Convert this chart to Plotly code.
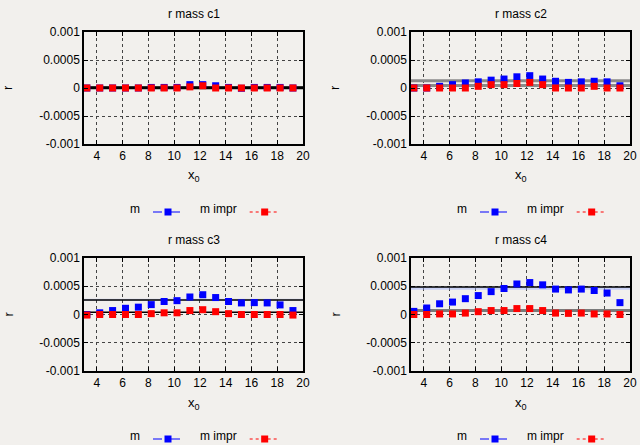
import plotly.graph_objects as go

# ---------------- data ----------------
x0 = [3.22, 4.22, 5.22, 6.22, 7.22, 8.22, 9.22, 10.22, 11.22, 12.22, 13.22, 14.22, 15.22, 16.22, 17.22, 18.22, 19.22]

titles = ["r mass c1", "r mass c2", "r mass c3", "r mass c4"]
series_names = ["m", "m impr"]

m_c1 = [0.0, 0.0, 0.0, 0.0, 0.0, 0.1e-4, 0.1e-4, 0.1e-4, 0.6e-4, 0.6e-4, 0.4e-4, 0.1e-4, -0.05e-4, 0.1e-4, 0.1e-4, 0.1e-4, 0.0]
mi_c1 = [0.0, 0.0, 0.0, 0.0, 0.0, 0.0, 0.0, 0.0, 0.2e-4, 0.4e-4, 0.0, 0.0, 0.0, 0.0, 0.0, 0.0, 0.0]

m_c2 = [0.0, 0.0, 0.3e-4, 0.6e-4, 0.9e-4, 1.1e-4, 1.4e-4, 1.6e-4, 2.0e-4, 2.2e-4, 1.6e-4, 1.2e-4, 1.0e-4, 1.1e-4, 1.2e-4, 1.1e-4, 0.4e-4]
mi_c2 = [0.0, 0.0, 0.0, 0.0, 0.0, 0.3e-4, 0.6e-4, 0.6e-4, 0.8e-4, 1.0e-4, 0.6e-4, 0.0, 0.0, 0.0, 0.3e-4, 0.0, 0.0]

m_c3 = [0.0, 0.3e-4, 0.7e-4, 1.1e-4, 1.3e-4, 1.75e-4, 2.3e-4, 2.45e-4, 3.1e-4, 3.5e-4, 3.0e-4, 2.3e-4, 2.05e-4, 2.1e-4, 2.05e-4, 1.7e-4, 0.7e-4]
mi_c3 = [-0.1e-4, 0.0, 0.0, 0.0, 0.0, 0.15e-4, 0.3e-4, 0.3e-4, 0.7e-4, 0.85e-4, 0.5e-4, 0.15e-4, 0.0, 0.0, 0.0, 0.0, -0.1e-4]

m_c4 = [0.55e-4, 1.15e-4, 1.9e-4, 2.2e-4, 2.8e-4, 3.35e-4, 4.05e-4, 4.6e-4, 5.4e-4, 5.65e-4, 5.25e-4, 4.5e-4, 4.35e-4, 4.5e-4, 4.25e-4, 3.8e-4, 2.1e-4]
mi_c4 = [0.0, 0.0, 0.1e-4, 0.1e-4, 0.25e-4, 0.5e-4, 0.7e-4, 0.7e-4, 1.05e-4, 1.05e-4, 0.7e-4, 0.25e-4, 0.2e-4, 0.25e-4, 0.1e-4, 0.1e-4, 0.0]

m_series = [m_c1, m_c2, m_c3, m_c4]
mi_series = [mi_c1, mi_c2, mi_c3, mi_c4]

# fit constants (value, band low, band high)
m_fit = [0.1e-4, 1.3e-4, 2.55e-4, 4.85e-4]
m_fit_lo = [0.0, 1.15e-4, 2.45e-4, 4.4e-4]
m_fit_hi = [0.2e-4, 1.45e-4, 2.8e-4, 4.9e-4]
mi_fit = [0.0, 0.45e-4, 0.4e-4, 0.7e-4]
mi_fit_lo = [-0.1e-4, 0.35e-4, 0.35e-4, 0.6e-4]
mi_fit_hi = [0.1e-4, 0.55e-4, 0.45e-4, 0.8e-4]

fit_x = [3, 20]
x_ticks = [4, 6, 8, 10, 12, 14, 16, 18, 20]
y_ticks = [-0.001, -0.0005, 0, 0.0005, 0.001]
y_ticklabels = ["-0.001", "-0.0005", "0", "0.0005", "0.001"]

# ---------------- layout helpers ----------------
W, H = 640, 445
BG = "#f2f0ed"
FONT = "Liberation Sans, Arial, sans-serif"

# pixel boxes (left, right, top, bottom)
boxes = [(84, 303, 32, 144), (411, 630, 32, 144), (84, 303, 258, 371), (411, 630, 258, 371)]

m_line_style = [dict(color="black", width=2.5), dict(color="#8a8a8a", width=3),
                dict(color="black", width=1.5), dict(color="black", width=1.5)]
mi_line_style = [dict(color="black", width=2.5), dict(color="#8a8a8a", width=3),
                 dict(color="black", width=1.5), dict(color="#7a7a7a", width=3)]
m_band_color = ["rgba(120,120,120,0.35)", "rgba(120,120,120,0.35)",
                "rgba(150,170,255,0.35)", "rgba(150,170,255,0.45)"]
mi_band_color = ["rgba(120,120,120,0.35)", "rgba(120,120,120,0.35)",
                 "rgba(120,120,120,0.25)", "rgba(120,120,120,0.35)"]

fig = go.Figure()
annotations = []
layout = dict(
    width=W, height=H,
    margin=dict(l=0, r=0, t=0, b=0, autoexpand=False),
    paper_bgcolor=BG, plot_bgcolor=BG,
    font=dict(family=FONT, size=12, color="black"),
    showlegend=True,
)

legend_count = 0
for i in range(4):
    k = "" if i == 0 else str(i + 1)
    xa, ya = "x" + k, "y" + k
    l, r, t, b = boxes[i]

    for lo, hi, col in ((m_fit_lo[i], m_fit_hi[i], m_band_color[i]),
                        (mi_fit_lo[i], mi_fit_hi[i], mi_band_color[i])):
        fig.add_trace(go.Scatter(x=fit_x + fit_x[::-1], y=[lo, lo, hi, hi], fill="toself",
                                 fillcolor=col, line=dict(width=0), mode="lines",
                                 hoverinfo="skip", showlegend=False, xaxis=xa, yaxis=ya))
    fig.add_trace(go.Scatter(x=fit_x, y=[m_fit[i]] * 2, mode="lines", line=m_line_style[i],
                             showlegend=False, xaxis=xa, yaxis=ya))
    fig.add_trace(go.Scatter(x=fit_x, y=[mi_fit[i]] * 2, mode="lines", line=mi_line_style[i],
                             showlegend=False, xaxis=xa, yaxis=ya))
    fig.add_trace(go.Scatter(x=x0, y=m_series[i], mode="markers",
                             marker=dict(symbol="square", size=7, color="#0000ff"),
                             showlegend=False, xaxis=xa, yaxis=ya))
    fig.add_trace(go.Scatter(x=x0, y=mi_series[i], mode="markers",
                             marker=dict(symbol="square", size=7, color="#ff0000"),
                             showlegend=False, xaxis=xa, yaxis=ya))

    # legend entries: text (legend title) left of the sample, as in gnuplot
    leg_styles = [dict(color="#0000ff", dash="dashdot"), dict(color="#ff0000", dash="dot")]
    leg_x = [l + 44, l + 114]
    for j in range(2):
        legend_count += 1
        lname = "legend" if legend_count == 1 else "legend" + str(legend_count)
        fig.add_trace(go.Scatter(x=[None], y=[None], mode="lines+markers", name=" ",
                                 line=dict(color=leg_styles[j]["color"], width=1,
                                           dash=leg_styles[j]["dash"]),
                                 marker=dict(symbol="square", size=7, color=leg_styles[j]["color"]),
                                 legend=lname, xaxis=xa, yaxis=ya))
        layout[lname] = dict(orientation="h", x=leg_x[j] / W, xanchor="left",
                             y=1 - (b + 68) / H, yanchor="middle", bgcolor="rgba(0,0,0,0)",
                             title=dict(text=series_names[j], side="left",
                                        font=dict(size=12, family=FONT)),
                             font=dict(size=12, family=FONT), itemwidth=30)

    axis_common = dict(showline=True, linecolor="black", linewidth=1.5, mirror="allticks",
                       ticks="inside", ticklen=4, tickcolor="black",
                       showgrid=True, gridcolor="#444", griddash="dot", gridwidth=1,
                       zeroline=False, tickfont=dict(size=12, family=FONT))
    layout["xaxis" + k] = dict(axis_common, domain=[l / W, r / W], range=[3, 20],
                               tickvals=x_ticks, anchor=ya)
    layout["yaxis" + k] = dict(axis_common, domain=[1 - b / H, 1 - t / H], range=[-0.001, 0.001],
                               tickvals=y_ticks, ticktext=y_ticklabels, anchor=xa)

    cx = (l + r) / 2
    annotations.append(dict(text=titles[i], x=cx / W, y=1 - (t - 18) / H, xref="paper", yref="paper",
                            xanchor="center", yanchor="middle",
                            showarrow=False, font=dict(size=12, family=FONT)))
    annotations.append(dict(text="x<sub>0</sub>", x=cx / W, y=1 - (b + 32) / H, xref="paper",
                            yref="paper", xanchor="center", yanchor="middle",
                            showarrow=False, font=dict(size=13, family=FONT)))
    annotations.append(dict(text="r", x=(l - 76) / W, y=1 - ((t + b) / 2) / H, xref="paper",
                            yref="paper", xanchor="center", yanchor="middle",
                            showarrow=False, textangle=-90,
                            font=dict(size=13, family=FONT)))

layout["annotations"] = annotations
fig.update_layout(**layout)
fig.write_html("out.html", config={"displayModeBar": False},
               post_script="document.body.style.margin='0';document.body.style.overflow='hidden';")
